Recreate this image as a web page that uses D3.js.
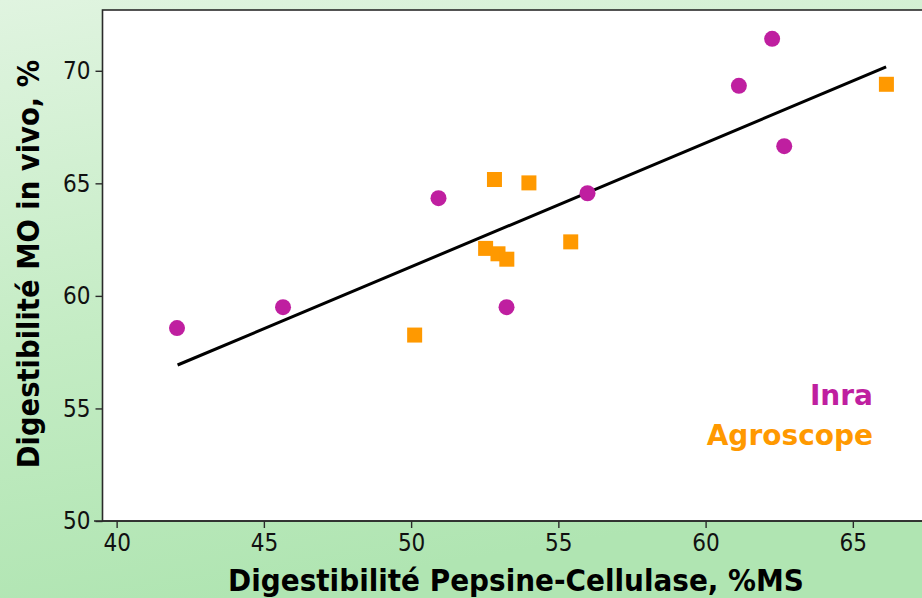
<!DOCTYPE html>
<html>
<head>
<meta charset="utf-8">
<script src="https://cdn.jsdelivr.net/npm/d3@7"></script>
<style>
  body { margin: 0; }
  svg { display: block; }
</style>
</head>
<body>
<script>
// Inra points (circles)
const inraX = [42.05, 45.65, 50.93, 53.24, 55.99, 61.13, 62.26, 62.67]
const inraY = [58.57, 59.5, 64.34, 59.5, 64.56, 69.33, 71.42, 66.65]
// Agroscope points (squares)
const agroX = [50.12, 52.83, 54.0, 52.53, 52.95, 53.25, 55.42, 66.14]
const agroY = [58.26, 65.17, 65.02, 62.11, 61.87, 61.63, 62.4, 69.4]
// regression line end points
const fitX = [42.07, 66.13]
const fitY = [56.93, 70.17]
const xTicks = [40, 45, 50, 55, 60, 65]
const yTicks = [50, 55, 60, 65, 70]

const WIDTH = 922
const HEIGHT = 598
const plotLeft = 102.5, plotRight = 935, plotTop = 10, plotBottom = 521

const x = d3.scaleLinear().domain([39.52, 67.79]).range([plotLeft, plotRight])
const y = d3.scaleLinear().domain([50, 72.7]).range([plotBottom, plotTop])

const svg = d3.select(document.body).append('svg')
  .attr('width', WIDTH)
  .attr('height', HEIGHT)

const defs = svg.append('defs')
const grad = defs.append('linearGradient')
  .attr('id', 'bg')
  .attr('x1', 0).attr('y1', 0).attr('x2', 0.25).attr('y2', 1)
grad.append('stop').attr('offset', 0).attr('stop-color', '#e0f4e0')
grad.append('stop').attr('offset', 0.55).attr('stop-color', '#c4ecc4')
grad.append('stop').attr('offset', 1).attr('stop-color', '#b0e5b2')

svg.append('rect')
  .attr('width', WIDTH)
  .attr('height', HEIGHT)
  .attr('fill', 'url(#bg)')

svg.append('rect')
  .attr('x', plotLeft)
  .attr('y', plotTop)
  .attr('width', plotRight - plotLeft)
  .attr('height', plotBottom - plotTop)
  .attr('fill', 'white')
  .attr('stroke', '#2a2a2a')
  .attr('stroke-width', 1.6)

// x axis line runs a bit past the y axis
svg.append('line')
  .attr('x1', 94).attr('x2', WIDTH)
  .attr('y1', plotBottom).attr('y2', plotBottom)
  .attr('stroke', '#2a2a2a')
  .attr('stroke-width', 1.6)

const tickFont = '"DejaVu Sans Condensed", "DejaVu Sans", sans-serif'

const xAxis = svg.append('g')
  .attr('transform', `translate(0,${plotBottom})`)
  .call(d3.axisBottom(x).tickValues(xTicks).tickSize(7).tickPadding(6))
xAxis.select('.domain').remove()
xAxis.selectAll('line').attr('stroke', '#2a2a2a').attr('stroke-width', 1.4)
xAxis.selectAll('text')
  .attr('font-family', tickFont)
  .attr('font-size', 24)
  .attr('fill', '#111')

const yAxis = svg.append('g')
  .attr('transform', `translate(${plotLeft},0)`)
  .call(d3.axisLeft(y).tickValues(yTicks).tickSize(7).tickPadding(5))
yAxis.select('.domain').remove()
yAxis.selectAll('line').attr('stroke', '#2a2a2a').attr('stroke-width', 1.4)
yAxis.selectAll('text')
  .attr('font-family', tickFont)
  .attr('font-size', 24)
  .attr('fill', '#111')

// regression line
svg.append('line')
  .attr('x1', x(fitX[0])).attr('y1', y(fitY[0]))
  .attr('x2', x(fitX[1])).attr('y2', y(fitY[1]))
  .attr('stroke', 'black')
  .attr('stroke-width', 3)

svg.append('g').selectAll('rect')
  .data(d3.range(agroX.length))
  .enter()
  .append('rect')
  .attr('x', i => x(agroX[i]) - 7.5)
  .attr('y', i => y(agroY[i]) - 7.5)
  .attr('width', 15)
  .attr('height', 15)
  .attr('fill', '#ff9900')

svg.append('g').selectAll('circle')
  .data(d3.range(inraX.length))
  .enter()
  .append('circle')
  .attr('cx', i => x(inraX[i]))
  .attr('cy', i => y(inraY[i]))
  .attr('r', 8)
  .attr('fill', '#bf1fa0')

const titleFont = '"DejaVu Sans Condensed", "DejaVu Sans", sans-serif'

svg.append('text')
  .attr('x', 516)
  .attr('y', 591)
  .attr('text-anchor', 'middle')
  .attr('font-family', titleFont)
  .attr('font-weight', 'bold')
  .attr('font-size', 31)
  .attr('fill', '#000')
  .text('Digestibilité Pepsine-Cellulase, %MS')

svg.append('text')
  .attr('transform', 'translate(39,264) rotate(-90)')
  .attr('text-anchor', 'middle')
  .attr('font-family', titleFont)
  .attr('font-weight', 'bold')
  .attr('font-size', 30.5)
  .attr('fill', '#000')
  .text('Digestibilité MO in vivo, %')

const legendFont = '"Comic Sans MS", "DejaVu Sans", sans-serif'
svg.append('text')
  .attr('x', 873).attr('y', 405)
  .attr('text-anchor', 'end')
  .attr('font-family', legendFont)
  .attr('font-weight', 'bold')
  .attr('font-size', 28)
  .attr('fill', '#bf1fa0')
  .text('Inra')
svg.append('text')
  .attr('x', 873).attr('y', 445)
  .attr('text-anchor', 'end')
  .attr('font-family', legendFont)
  .attr('font-weight', 'bold')
  .attr('font-size', 28)
  .attr('fill', '#ff9900')
  .text('Agroscope')
</script>
</body>
</html>
